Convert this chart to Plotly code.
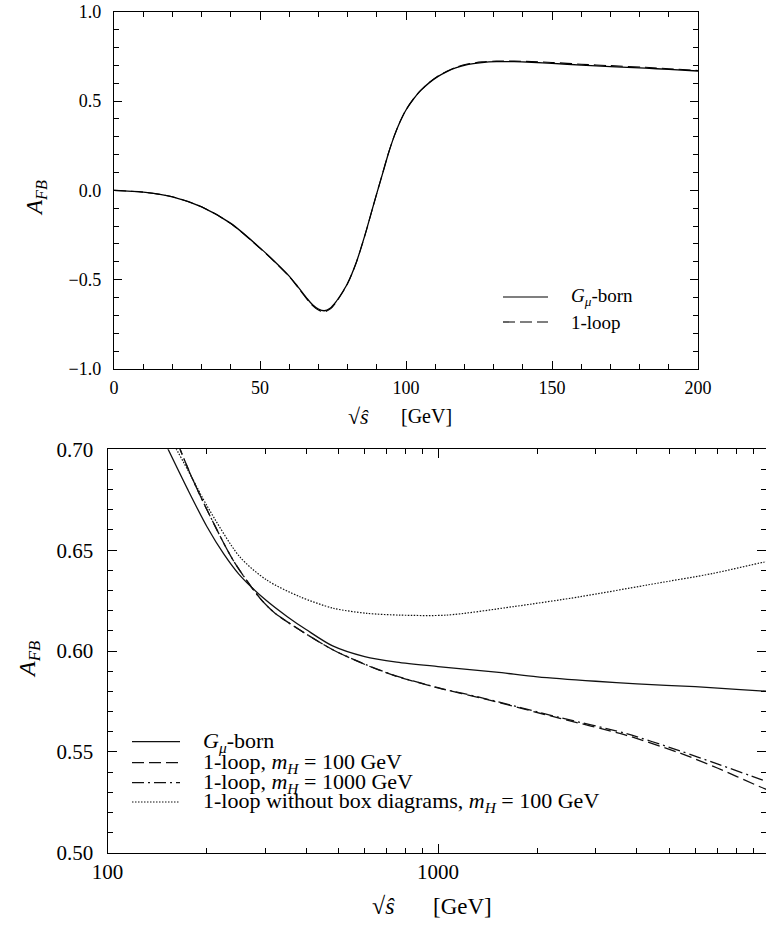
import plotly.graph_objects as go

# ---------------- data: top panel ----------------
top_sqrt_s = [0, 10, 20, 30, 40, 50, 55, 60, 63, 66, 68, 70, 72, 74, 76, 78, 80, 83, 86, 88, 90, 92, 94, 96, 98,
              100, 102.5, 105, 108, 111, 114, 117, 121, 126, 131, 137, 143, 150, 160, 170, 182, 190, 200]
top_born = [0.0, -0.010, -0.036, -0.092, -0.185, -0.322, -0.398, -0.480, -0.540, -0.603, -0.640, -0.664, -0.674,
            -0.660, -0.624, -0.576, -0.520, -0.402, -0.247, -0.132, -0.017, 0.095, 0.208, 0.305, 0.385,
            0.450, 0.510, 0.558, 0.603, 0.638, 0.665, 0.686, 0.704, 0.715, 0.720, 0.720, 0.717, 0.711, 0.701,
            0.693, 0.684, 0.677, 0.668]
top_loop = [0.0, -0.010, -0.036, -0.092, -0.186, -0.324, -0.400, -0.483, -0.544, -0.608, -0.645, -0.670, -0.680,
            -0.665, -0.628, -0.579, -0.522, -0.403, -0.248, -0.133, -0.017, 0.096, 0.209, 0.306, 0.386,
            0.451, 0.511, 0.559, 0.604, 0.640, 0.667, 0.689, 0.707, 0.719, 0.724, 0.724, 0.721, 0.716, 0.706,
            0.698, 0.689, 0.681, 0.671]

# ---------------- data: bottom panel ----------------
born_x = [150, 175, 200, 225, 250, 300, 350, 400, 480, 600, 750, 1000, 1500, 2000, 3000, 4000, 6000, 8000, 10000]
born_y = [0.7025, 0.680, 0.6616, 0.648, 0.638, 0.6255, 0.617, 0.6105, 0.6025, 0.5972, 0.5945, 0.5923,
          0.5895, 0.5872, 0.5850, 0.5837, 0.5823, 0.5810, 0.5800]

mh100_x = [163, 180, 200, 240, 290, 320, 382, 482, 608, 745, 1000, 1340, 2339, 3681, 5395, 7000, 9420, 10000]
mh100_y = [0.703, 0.686, 0.670, 0.645, 0.626, 0.619, 0.6104, 0.6005, 0.5930, 0.5876, 0.5817, 0.5768,
           0.5666, 0.5584, 0.5494, 0.5420, 0.5327, 0.5310]

mh1000_x = [163, 180, 200, 240, 290, 320, 382, 482, 608, 745, 1000, 1340, 2339, 3681, 5395, 7000, 9420, 10000]
mh1000_y = [0.703, 0.686, 0.670, 0.645, 0.626, 0.619, 0.6104, 0.6005, 0.5931, 0.5877, 0.5818, 0.5770,
            0.5670, 0.5592, 0.5505, 0.5440, 0.5365, 0.5350]

nobox_x = [158, 180, 200, 251, 303, 382, 482, 608, 767, 1062, 1691, 2691, 4285, 6808, 9633, 10000]
nobox_y = [0.703, 0.686, 0.672, 0.6468, 0.6352, 0.6269, 0.6212, 0.6187, 0.6178, 0.6178, 0.6220, 0.6269,
           0.6327, 0.6385, 0.6440, 0.6445]

x_major_bottom = [100, 1000, 10000]
x_major_labels = ["100", "1000", "10000"]
x_minor_bottom = [200, 300, 400, 500, 600, 700, 800, 900, 2000, 3000, 4000, 5000, 6000, 7000, 8000, 9000]

W, H = 766, 928
FONT = "Liberation Serif"


def pxx(x):
    return x / W


def pyy(y):
    return 1 - y / H


fig = go.Figure()

# top traces
fig.add_trace(go.Scatter(x=top_sqrt_s, y=top_born, mode="lines", xaxis="x", yaxis="y",
                         line=dict(color="black", width=1.3, shape="spline", smoothing=0.8), name="Gμ-born"))
fig.add_trace(go.Scatter(x=top_sqrt_s, y=top_loop, mode="lines", xaxis="x", yaxis="y",
                         line=dict(color="black", width=1.1, shape="spline", smoothing=0.8, dash="12px,5px"),
                         name="1-loop"))

# bottom traces
fig.add_trace(go.Scatter(x=born_x, y=born_y, mode="lines", xaxis="x2", yaxis="y2",
                         line=dict(color="#111", width=1.3, shape="spline", smoothing=0.8), name="born"))
fig.add_trace(go.Scatter(x=mh100_x, y=mh100_y, mode="lines", xaxis="x2", yaxis="y2",
                         line=dict(color="#111", width=1.3, shape="spline", smoothing=0.8, dash="12px,5px"),
                         name="mH100"))
fig.add_trace(go.Scatter(x=mh1000_x, y=mh1000_y, mode="lines", xaxis="x2", yaxis="y2",
                         line=dict(color="#111", width=1.3, shape="spline", smoothing=0.8, dash="12px,4px,2px,4px"),
                         name="mH1000"))
fig.add_trace(go.Scatter(x=nobox_x, y=nobox_y, mode="lines", xaxis="x2", yaxis="y2",
                         line=dict(color="#111", width=1.2, shape="spline", smoothing=0.8, dash="1.5px,1.5px"),
                         name="nobox"))

axis_common = dict(showline=True, linecolor="black", linewidth=1.3, mirror="ticks", ticks="inside",
                   tickcolor="black", tickwidth=1.1, showgrid=False, zeroline=False, automargin=False)

fig.update_layout(
    template="none",
    width=W, height=H, margin=dict(l=0, r=0, t=0, b=0, pad=0, autoexpand=False),
    paper_bgcolor="white", plot_bgcolor="white", showlegend=False,
    font=dict(family=FONT, color="black", size=18),
    xaxis=dict(domain=[pxx(114), pxx(698)], range=[0, 200], anchor="y",
               tickvals=[0, 50, 100, 150, 200], ticklen=8,
               minor=dict(dtick=10, ticks="inside", ticklen=5, tickcolor="black", tickwidth=1),
               tickfont=dict(size=18, family=FONT, color="black"), ticklabelstandoff=2, **axis_common),
    yaxis=dict(domain=[pyy(369), pyy(11.7)], range=[-1, 1], anchor="x",
               tickvals=[-1, -0.5, 0, 0.5, 1], tickformat=".1f", ticklen=8,
               minor=dict(dtick=0.1, ticks="inside", ticklen=5, tickcolor="black", tickwidth=1),
               tickfont=dict(size=18, family=FONT, color="black"), ticklabelstandoff=8, **axis_common),
    xaxis2=dict(type="log", domain=[pxx(107.5), 1], range=[2, 2 + (W - 107.5) / 330.5], anchor="y2",
                tickvals=x_major_bottom, ticktext=x_major_labels, ticklen=9,
                minor=dict(tickvals=x_minor_bottom, ticks="inside", ticklen=5, tickcolor="black", tickwidth=1),
                ticklabeloverflow="allow",
                tickfont=dict(size=21, family=FONT, color="black"), ticklabelstandoff=0, **axis_common),
    yaxis2=dict(domain=[pyy(852.7), pyy(449.3)], range=[0.5, 0.7], anchor="x2",
                tickvals=[0.5, 0.55, 0.6, 0.65, 0.7], tickformat=".2f", ticklen=9,
                minor=dict(dtick=0.01, ticks="inside", ticklen=5, tickcolor="black", tickwidth=1),
                tickfont=dict(size=21, family=FONT, color="black"), ticklabelstandoff=9, **axis_common),
)

annotations = []
shapes = []


def text_at(x, y, text, size, angle=0, xanchor="center"):
    annotations.append(dict(x=pxx(x), y=pyy(y), xref="paper", yref="paper", showarrow=False, textangle=angle,
                            xanchor=xanchor, yanchor="middle", text=text,
                            font=dict(size=size, family=FONT, color="black")))


# axis titles
text_at(36, 198, "<i>A</i><sub><i>FB</i></sub>", 23, angle=-90)
text_at(358, 416, "√<i>ŝ</i>", 22)
text_at(427, 416, "[GeV]", 20)
text_at(29, 660, "<i>A</i><sub><i>FB</i></sub>", 24, angle=-90)
text_at(383, 906, "√<i>ŝ</i>", 24)
text_at(462, 906, "[GeV]", 23)

# top legend
top_leg = [("solid", "<i>G</i><sub><i>μ</i></sub>-born", 297),
           ("12px,5px", "1-loop", 322)]
for dash, label, yy in top_leg:
    shapes.append(dict(type="line", xref="paper", yref="paper", x0=pxx(503), x1=pxx(548), y0=pyy(yy), y1=pyy(yy),
                       line=dict(color="black", width=1.2, dash=dash)))
    text_at(569, yy, label, 19, xanchor="left")

# bottom legend
bot_leg = [("solid", "<i>G</i><sub><i>μ</i></sub>-born", 741.7),
           ("12px,5px", "1-loop, <i>m</i><sub><i>H</i></sub> = 100 GeV", 762.7),
           ("12px,4px,2px,4px", "1-loop, <i>m</i><sub><i>H</i></sub> = 1000 GeV", 782.7),
           ("1.5px,1.5px", "1-loop without box diagrams, <i>m</i><sub><i>H</i></sub> = 100 GeV", 802)]
for dash, label, yy in bot_leg:
    shapes.append(dict(type="line", xref="paper", yref="paper", x0=pxx(132), x1=pxx(180), y0=pyy(yy), y1=pyy(yy),
                       line=dict(color="#111", width=1.2, dash=dash)))
    text_at(201, yy, label, 22, xanchor="left")

fig.update_layout(annotations=annotations, shapes=shapes)
fig.write_html("out.html", config={"displayModeBar": False},
               post_script="document.body.style.margin='0';document.body.style.padding='0';"
                           "document.documentElement.style.overflow='hidden';")
